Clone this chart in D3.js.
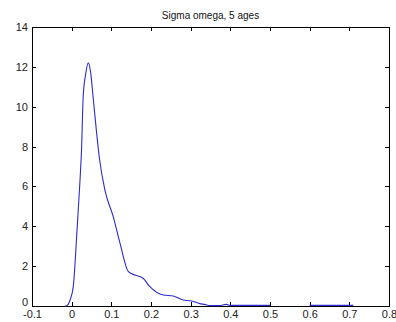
<!DOCTYPE html>
<html>
<head>
<meta charset="utf-8">
<script src="https://cdn.jsdelivr.net/npm/d3@7"></script>
<style>
  body { margin: 0; background: #fff; }
  svg { display: block; font-family: "Liberation Sans", Arial, sans-serif; }
  .axis path, .axis line { stroke: #000; shape-rendering: crispEdges; }
  .axis text { fill: #222; font-size: 11px; }
</style>
</head>
<body>
<svg id="chart"></svg>
<script>
const titleText = "Sigma omega, 5 ages";
const xTicks = [-0.1, 0, 0.1, 0.2, 0.3, 0.4, 0.5, 0.6, 0.7, 0.8];
const yTicks = [0, 2, 4, 6, 8, 10, 12, 14];

// density estimate (null = gap in the line)
const xs = [-0.017, -0.014, -0.004, 0.004, 0.014, 0.021, 0.025, 0.029, 0.035, 0.042,
  0.048, 0.054, 0.063, 0.070, 0.084, 0.105, 0.122, 0.143, 0.160, 0.180, 0.197,
  0.231, 0.256, 0.281, 0.302, 0.323, 0.335, 0.350, 0.372, 0.390, 0.400, 0.500,
  0.550, 0.600, 0.710];
const ys = [0, 0, 0.3, 0.97, 3.97, 6.3, 7.9, 10.5, 11.6, 12.2,
  11.7, 10.5, 8.66, 7.4, 5.8, 4.47, 3.14, 1.72, 1.55, 1.39, 0.97,
  0.55, 0.5, 0.3, 0.25, 0.12, 0.08, 0.02, 0.02, 0.08, 0.03, 0.03,
  null, 0.03, 0.03];

const width = 396, height = 322;
const margin = { top: 27, right: 7, bottom: 16, left: 32 };
const innerW = width - margin.left - margin.right;
const innerH = height - margin.top - margin.bottom;

const svg = d3.select("#chart").attr("width", width).attr("height", height);
const chart = svg.append("g").attr("transform", `translate(${margin.left},${margin.top})`);

const xScale = d3.scaleLinear().domain([-0.1, 0.8]).range([0, innerW]);
const yScale = d3.scaleLinear().domain([0, 14]).range([innerH, 0]);

const fmt = d => String(+d.toFixed(2));

// bottom axis with labels, ticks pointing inward
chart.append("g").attr("class", "axis")
  .attr("transform", `translate(0,${innerH})`)
  .call(d3.axisBottom(xScale).tickValues(xTicks).tickFormat(fmt).tickSizeInner(-4).tickSizeOuter(0).tickPadding(5))
  .call(g => g.selectAll(".tick text").attr("dy", "0.62em"));

// top axis, ticks only
chart.append("g").attr("class", "axis")
  .call(d3.axisTop(xScale).tickValues(xTicks).tickFormat("").tickSizeInner(-4).tickSizeOuter(0));

// left axis with labels; lift the 0 a little so it clears the x labels
chart.append("g").attr("class", "axis")
  .call(d3.axisLeft(yScale).tickValues(yTicks).tickFormat(fmt).tickSizeInner(-4).tickSizeOuter(0).tickPadding(4))
  .call(g => g.selectAll(".tick text").filter(d => d === 0).attr("dy", "-0.08em"));

// right axis, ticks only
chart.append("g").attr("class", "axis")
  .attr("transform", `translate(${innerW},0)`)
  .call(d3.axisRight(yScale).tickValues(yTicks).tickFormat("").tickSizeInner(-4).tickSizeOuter(0));

// the density line
const points = xs.map((x, i) => ({ x, y: ys[i] }));
const line = d3.line()
  .defined(d => d.y != null)
  .curve(d3.curveMonotoneX)
  .x(d => xScale(d.x))
  .y(d => yScale(d.y));

chart.append("path")
  .datum(points)
  .attr("fill", "none")
  .attr("stroke", "#2c2cd0")
  .attr("stroke-width", 1.1)
  .attr("d", line);

// title
svg.append("text")
  .attr("x", margin.left + innerW / 2)
  .attr("y", 19)
  .attr("text-anchor", "middle")
  .style("font-size", "10px")
  .style("fill", "#111")
  .text(titleText);
</script>
</body>
</html>
